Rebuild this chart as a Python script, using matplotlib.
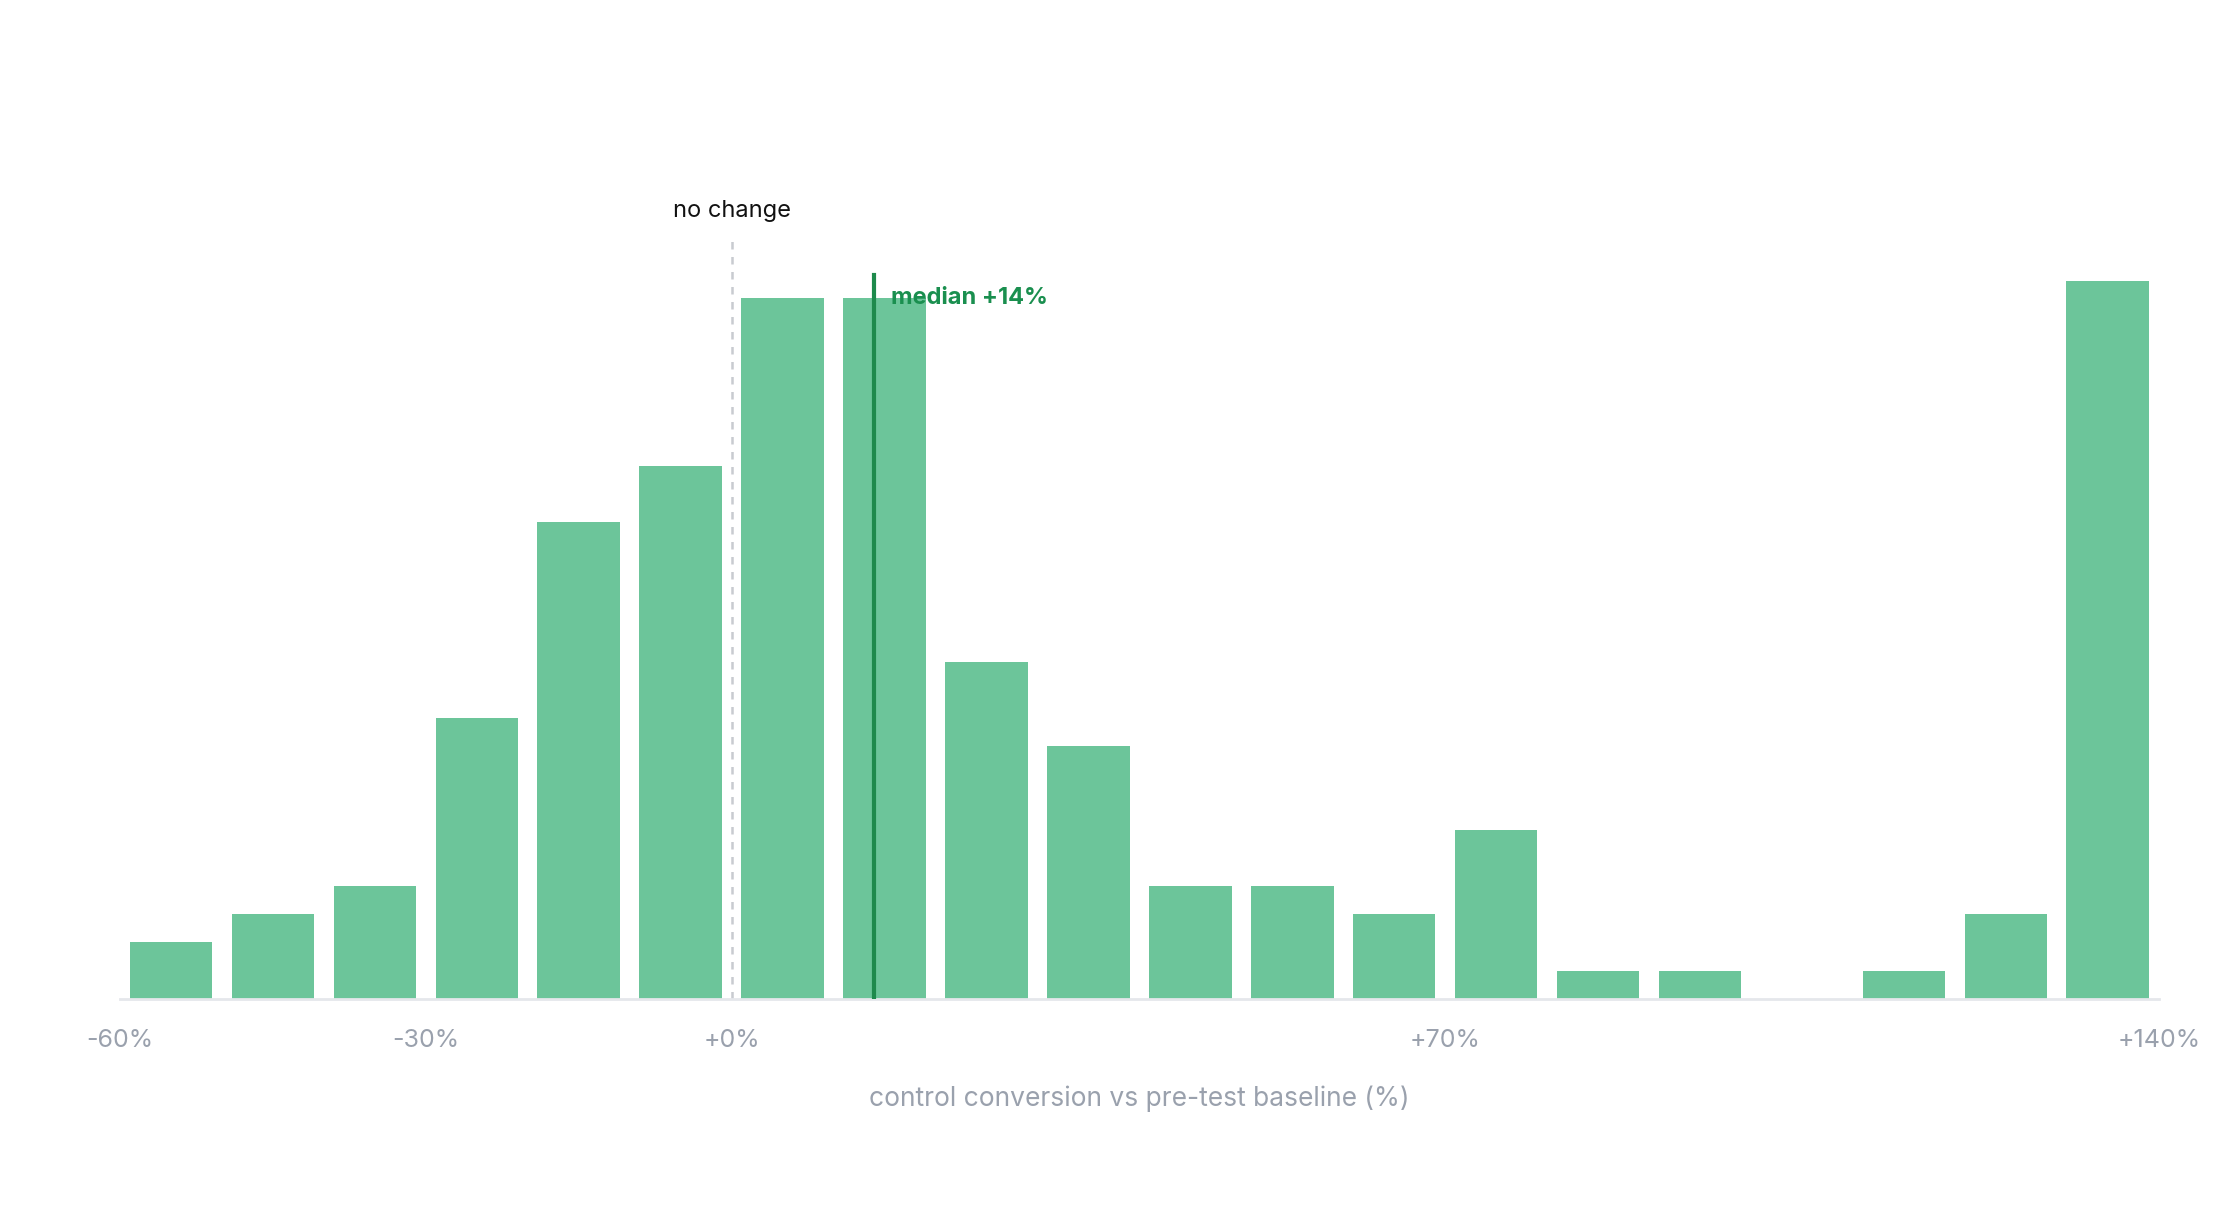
import numpy as np
import matplotlib.pyplot as plt

plt.rcParams['font.family'] = ['Inter', 'DejaVu Sans']

bin_left = list(range(-60, 140, 10))
counts = [2, 3, 4, 10, 17, 19, 25, 25, 12, 9, 4, 4, 3, 6, 1, 1, 0, 1, 3, 25.6]
tick_vals = [-60, -30, 0, 70, 140]
tick_labels = ["-60%", "-30%", "+0%", "+70%", "+140%"]
median = 14

fig = plt.figure(figsize=(22.4, 12.08), dpi=100)
ax = fig.add_axes([0.0536, 0.1734, 0.9101, 0.709])

centers = np.array(bin_left) + 5
ax.bar(centers, counts, width=8.1, color="#6cc59a", zorder=2)

ax.set_xlim(-60, 140)
ax.set_ylim(0, 30.56)
for s in ["top", "right", "left"]:
    ax.spines[s].set_visible(False)
ax.spines["bottom"].set_color("#e5e7eb")
ax.spines["bottom"].set_linewidth(2)
ax.set_yticks([])
ax.set_xticks(tick_vals)
ax.set_xticklabels(tick_labels, fontsize=18, color="#9aa1ad")
ax.tick_params(axis="x", length=0, pad=22)
ax.set_xlabel("control conversion vs pre-test baseline (%)", fontsize=19,
              color="#9aa1ad", labelpad=24)

# no change reference line
ax.plot([0, 0], [0, 27.1], ls=(0, (3, 3)), color="#c8cbd0", lw=1.8, zorder=1)
ax.text(0, 27.7, "no change", ha="center", va="bottom", fontsize=17, color="#111111")

# median
ax.plot([median, median], [0, 25.8], color="#1e8a4c", lw=3, zorder=3)
ax.text(median + 1.6, 25.0, "median +14%", ha="left", va="center", fontsize=17,
        fontweight="bold", color="#1a8f4f")

fig.savefig("out.png", dpi=100)
